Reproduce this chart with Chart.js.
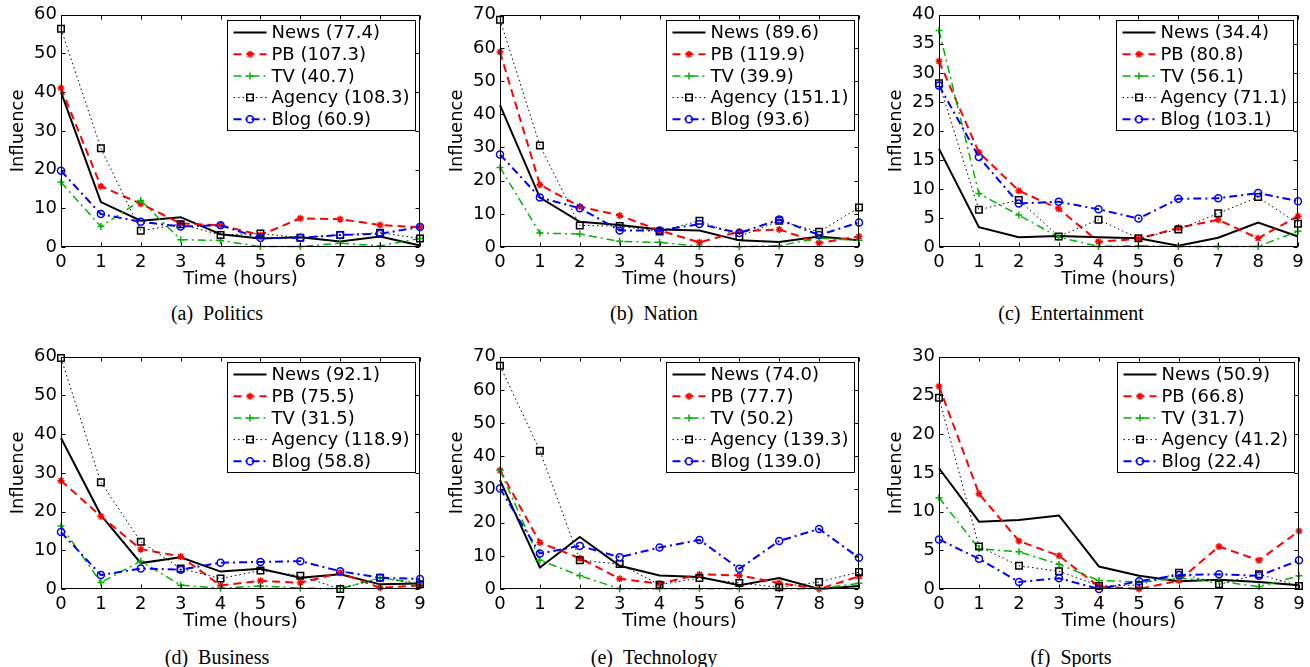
<!DOCTYPE html>
<html><head><meta charset="utf-8">
<script src="https://cdn.jsdelivr.net/npm/chart.js@4/dist/chart.umd.min.js"></script>
<style>
html,body{margin:0;padding:0;background:#fff;}
body{width:1310px;height:667px;position:relative;overflow:hidden;}
canvas.pc{position:absolute;}
.cap{position:absolute;font-family:"Liberation Serif","Times New Roman",serif;font-size:20px;line-height:1;color:#000;transform:translateX(-50%);white-space:pre;}
</style></head><body>
<script>
// ---------- data ----------
const hours = ['0','1','2','3','4','5','6','7','8','9'];
const seriesNames = ['News','PB','TV','Agency','Blog'];

const politicsNews   = [40.0, 11.6, 6.8, 7.7, 3.3, 2.2, 2.5, 1.4, 2.7, 0.4];
const politicsPB     = [41.1, 15.7, 11.2, 6.1, 5.6, 3.1, 7.4, 7.2, 5.7, 5.1];
const politicsTV     = [16.7, 5.3, 12.0, 1.9, 1.7, 0.1, 0.1, 1.0, 0.3, 2.2];
const politicsAgency = [56.4, 25.5, 4.2, 5.9, 3.1, 3.5, 2.4, 3.1, 3.7, 2.2];
const politicsBlog   = [19.7, 8.5, 6.5, 5.3, 5.6, 2.3, 2.4, 3.1, 3.4, 5.2];
const politicsTotals = [77.4, 107.3, 40.7, 108.3, 60.9];

const nationNews   = [42.8, 14.9, 7.6, 6.6, 5.3, 5.0, 2.0, 1.5, 3.2, 2.0];
const nationPB     = [58.8, 18.8, 12.2, 9.5, 5.0, 1.4, 4.7, 5.3, 1.2, 3.2];
const nationTV     = [24.0, 4.2, 3.9, 1.7, 1.4, 0.2, 0.1, 0.4, 2.7, 2.0];
const nationAgency = [68.5, 30.6, 6.5, 6.3, 4.7, 7.9, 3.2, 7.9, 4.6, 11.9];
const nationBlog   = [27.9, 14.9, 11.7, 5.0, 5.0, 6.9, 4.2, 8.3, 3.6, 7.4];
const nationTotals = [89.6, 119.9, 39.9, 151.1, 93.6];

const entertainmentNews   = [16.9, 3.4, 1.7, 1.9, 1.7, 1.5, 0.2, 1.6, 4.2, 1.8];
const entertainmentPB     = [32.0, 16.3, 9.7, 6.6, 0.9, 1.4, 3.3, 4.7, 1.5, 5.3];
const entertainmentTV     = [37.3, 9.2, 5.5, 1.7, 0.1, 0.2, 0.1, 0.1, 0.1, 2.7];
const entertainmentAgency = [28.2, 6.4, 8.1, 1.8, 4.7, 1.5, 3.0, 5.8, 8.6, 4.0];
const entertainmentBlog   = [27.8, 15.5, 7.5, 7.8, 6.5, 4.9, 8.3, 8.4, 9.3, 7.9];
const entertainmentTotals = [34.4, 80.8, 56.1, 71.1, 103.1];

const businessNews   = [39.0, 19.1, 6.7, 8.2, 4.5, 5.2, 2.9, 3.8, 1.2, 1.4];
const businessPB     = [28.0, 18.8, 10.3, 8.4, 0.9, 2.1, 1.6, 4.2, 0.3, 0.9];
const businessTV     = [16.3, 1.7, 7.2, 1.0, 0.2, 0.8, 0.2, 0.1, 2.9, 1.5];
const businessAgency = [59.7, 27.6, 12.2, 5.3, 2.7, 4.8, 3.4, 0.0, 2.9, 1.2];
const businessBlog   = [14.7, 3.6, 5.3, 5.0, 6.8, 7.0, 7.2, 4.6, 2.9, 2.6];
const businessTotals = [92.1, 75.5, 31.5, 118.9, 58.8];

const technologyNews   = [32.8, 6.5, 15.7, 7.0, 4.1, 3.6, 1.1, 3.3, 0.0, 0.9];
const technologyPB     = [35.8, 14.0, 9.3, 3.1, 1.6, 4.4, 4.1, 1.8, 0.0, 3.8];
const technologyTV     = [35.8, 8.7, 4.0, 0.1, 0.1, 0.1, 0.1, 0.1, 0.1, 1.7];
const technologyAgency = [67.3, 41.7, 8.7, 7.5, 1.3, 3.3, 1.8, 0.5, 2.1, 5.1];
const technologyBlog   = [30.3, 10.7, 13.0, 9.6, 12.5, 14.8, 6.1, 14.5, 18.1, 9.4];
const technologyTotals = [74.0, 77.7, 50.2, 139.3, 139.0];

const sportsNews   = [15.6, 8.7, 8.9, 9.5, 2.9, 1.7, 1.0, 1.2, 0.9, 0.5];
const sportsPB     = [26.2, 12.3, 6.2, 4.3, 0.3, 0.0, 1.1, 5.5, 3.7, 7.5];
const sportsTV     = [11.8, 5.2, 4.8, 3.2, 1.1, 0.9, 1.4, 1.0, 0.3, 1.7];
const sportsAgency = [24.7, 5.5, 3.0, 2.3, 0.4, 0.5, 2.1, 0.6, 1.9, 0.4];
const sportsBlog   = [6.4, 3.9, 0.9, 1.4, 0.0, 1.0, 1.8, 1.9, 1.7, 3.7];
const sportsTotals = [50.9, 66.8, 31.7, 41.2, 22.4];

const captions = ['(a)\u2002Politics','(b)\u2002Nation','(c)\u2002Entertainment','(d)\u2002Business','(e)\u2002Technology','(f)\u2002Sports'];
const yMaxes = [60, 70, 40, 60, 70, 30];
const ySteps = [10, 10, 5, 10, 10, 5];
const xTitle = 'Time (hours)';
const yTitle = 'Influence';

// ---------- layout / style ----------
const panelSeries = [
  [politicsNews, politicsPB, politicsTV, politicsAgency, politicsBlog],
  [nationNews, nationPB, nationTV, nationAgency, nationBlog],
  [entertainmentNews, entertainmentPB, entertainmentTV, entertainmentAgency, entertainmentBlog],
  [businessNews, businessPB, businessTV, businessAgency, businessBlog],
  [technologyNews, technologyPB, technologyTV, technologyAgency, technologyBlog],
  [sportsNews, sportsPB, sportsTV, sportsAgency, sportsBlog]
];
const panelTotals = [politicsTotals, nationTotals, entertainmentTotals, businessTotals, technologyTotals, sportsTotals];

const layout = [
  {x:0,   y:0,   w:435, left:61, right:420, capX:217,  capY:303},
  {x:435, y:0,   w:435, left:65, right:424, capX:654,  capY:303},
  {x:870, y:0,   w:440, left:69, right:428, capX:1071, capY:303},
  {x:0,   y:342, w:435, left:61, right:420, capX:217,  capY:647},
  {x:435, y:342, w:435, left:65, right:424, capX:654,  capY:647},
  {x:870, y:342, w:440, left:69, right:429, capX:1071, capY:647}
];
const CH = 290, TOP = 12, BOTTOM = 247;

const styles = [
  {color:'#000000', width:2,   dash:[],          ps:'circle', r:0},
  {color:'#ff0000', width:2,   dash:[8,5],       ps:'star',   r:3.5},
  {color:'#00b400', width:1.5, dash:[8,4,2,4],   ps:'cross',  r:3.5},
  {color:'#000000', width:1,   dash:[1.5,3],     ps:'rect',   r:4.6},
  {color:'#0000ff', width:2,   dash:[8,4,2,4],   ps:'circle', r:3.5}
];

Chart.defaults.font.family = '"DejaVu Sans", "Liberation Sans", sans-serif';
Chart.defaults.font.size = 18;
Chart.defaults.color = '#000';

function drawMarker(ctx, st, x, y) {
  if (!st.r) return;
  ctx.save();
  ctx.setLineDash([]);
  ctx.strokeStyle = st.color;
  ctx.fillStyle = 'rgba(0,0,0,0)';
  ctx.lineWidth = 1.5;
  Chart.helpers.drawPoint(ctx, {pointStyle: st.ps, radius: st.r, borderWidth: 1.5, rotation: 0}, x, y);
  ctx.restore();
}

const framePlugin = {
  id: 'frame',
  afterDraw(chart) {
    const ctx = chart.ctx, ca = chart.chartArea;
    const xs = chart.scales.x, ys = chart.scales.y;
    ctx.save();
    ctx.setLineDash([]);
    ctx.strokeStyle = '#000';
    ctx.lineWidth = 1;
    const L = Math.round(ca.left) + 0.5, R = Math.round(ca.right) - 0.5;
    const T = Math.round(ca.top) + 0.5, B = Math.round(ca.bottom) - 0.5;
    ctx.strokeRect(L, T, R - L, B - T);
    ctx.beginPath();
    const tl = 4;
    xs.ticks.forEach((t, i) => {
      const px = Math.round(xs.getPixelForTick(i)) + 0.5;
      ctx.moveTo(px, B); ctx.lineTo(px, B - tl);
      ctx.moveTo(px, T); ctx.lineTo(px, T + tl);
    });
    ys.ticks.forEach(t => {
      const py = Math.round(ys.getPixelForValue(t.value)) + 0.5;
      ctx.moveTo(L, py); ctx.lineTo(L + tl, py);
      ctx.moveTo(R, py); ctx.lineTo(R - tl, py);
    });
    ctx.stroke();

    // legend
    ctx.font = '18px "DejaVu Sans", sans-serif';
    const labels = chart.data.datasets.map(d => d.label);
    const tw = Math.max(...labels.map(l => ctx.measureText(l).width));
    const bw = Math.round(6 + 33 + 5 + tw + 6), bh = 110;
    const bx = Math.round(ca.right - 5 - bw) + 0.5, by = Math.round(ca.top + 5) + 0.5;
    ctx.fillStyle = '#fff';
    ctx.fillRect(bx, by, bw, bh);
    ctx.strokeRect(bx, by, bw, bh);
    chart.data.datasets.forEach((d, i) => {
      const st = styles[i];
      const cy = by + 12 + i * 21.7;
      ctx.save();
      ctx.strokeStyle = st.color;
      ctx.lineWidth = st.width;
      ctx.setLineDash(st.dash);
      ctx.beginPath();
      ctx.moveTo(bx + 6, cy); ctx.lineTo(bx + 39, cy);
      ctx.stroke();
      ctx.restore();
      drawMarker(ctx, st, bx + 22.5, cy);
      ctx.fillStyle = '#000';
      ctx.textBaseline = 'middle';
      ctx.textAlign = 'left';
      ctx.fillText(d.label, bx + 44, cy + 1);
    });
    ctx.restore();
  }
};

layout.forEach((p, k) => {
  const cv = document.createElement('canvas');
  cv.className = 'pc';
  cv.width = p.w; cv.height = CH;
  cv.style.left = p.x + 'px'; cv.style.top = p.y + 'px';
  cv.style.width = p.w + 'px'; cv.style.height = CH + 'px';
  document.body.appendChild(cv);

  const cap = document.createElement('div');
  cap.className = 'cap';
  cap.textContent = captions[k];
  cap.style.left = p.capX + 'px';
  cap.style.top = p.capY + 'px';
  document.body.appendChild(cap);

  const datasets = panelSeries[k].map((vals, i) => {
    const st = styles[i];
    return {
      label: seriesNames[i] + ' (' + panelTotals[k][i].toFixed(1) + ')',
      data: vals,
      borderColor: st.color,
      backgroundColor: 'rgba(0,0,0,0)',
      borderWidth: st.width,
      borderDash: st.dash,
      pointStyle: st.ps,
      pointRadius: st.r,
      pointHoverRadius: st.r,
      pointBorderColor: st.color,
      pointBackgroundColor: 'rgba(0,0,0,0)',
      pointBorderWidth: 1.5,
      tension: 0,
      fill: false,
      clip: false,
      order: 4 - i
    };
  });

  new Chart(cv, {
    type: 'line',
    data: { labels: hours, datasets },
    options: {
      responsive: false,
      animation: false,
      devicePixelRatio: 1,
      layout: { padding: { left: 0, right: p.w - p.right, top: TOP, bottom: 0 } },
      plugins: { legend: { display: false }, tooltip: { enabled: false } },
      scales: {
        x: {
          type: 'category', offset: false,
          grid: { display: false, drawTicks: false },
          border: { display: false },
          ticks: { padding: 5, maxRotation: 0, autoSkip: false, color: '#000' },
          title: { display: true, text: xTitle, color: '#000', padding: { top: 0, bottom: 0 } },
          afterFit: s => { s.height = CH - BOTTOM; }
        },
        y: {
          min: 0, max: yMaxes[k],
          grid: { display: false, drawTicks: false },
          border: { display: false },
          ticks: { stepSize: ySteps[k], padding: 4, color: '#000' },
          title: { display: true, text: yTitle, color: '#000', padding: { top: p.left - 42.5 - 10.8, bottom: 0 } },
          afterFit: s => { s.width = p.left; }
        }
      }
    },
    plugins: [framePlugin]
  });
});
</script>
</body></html>
